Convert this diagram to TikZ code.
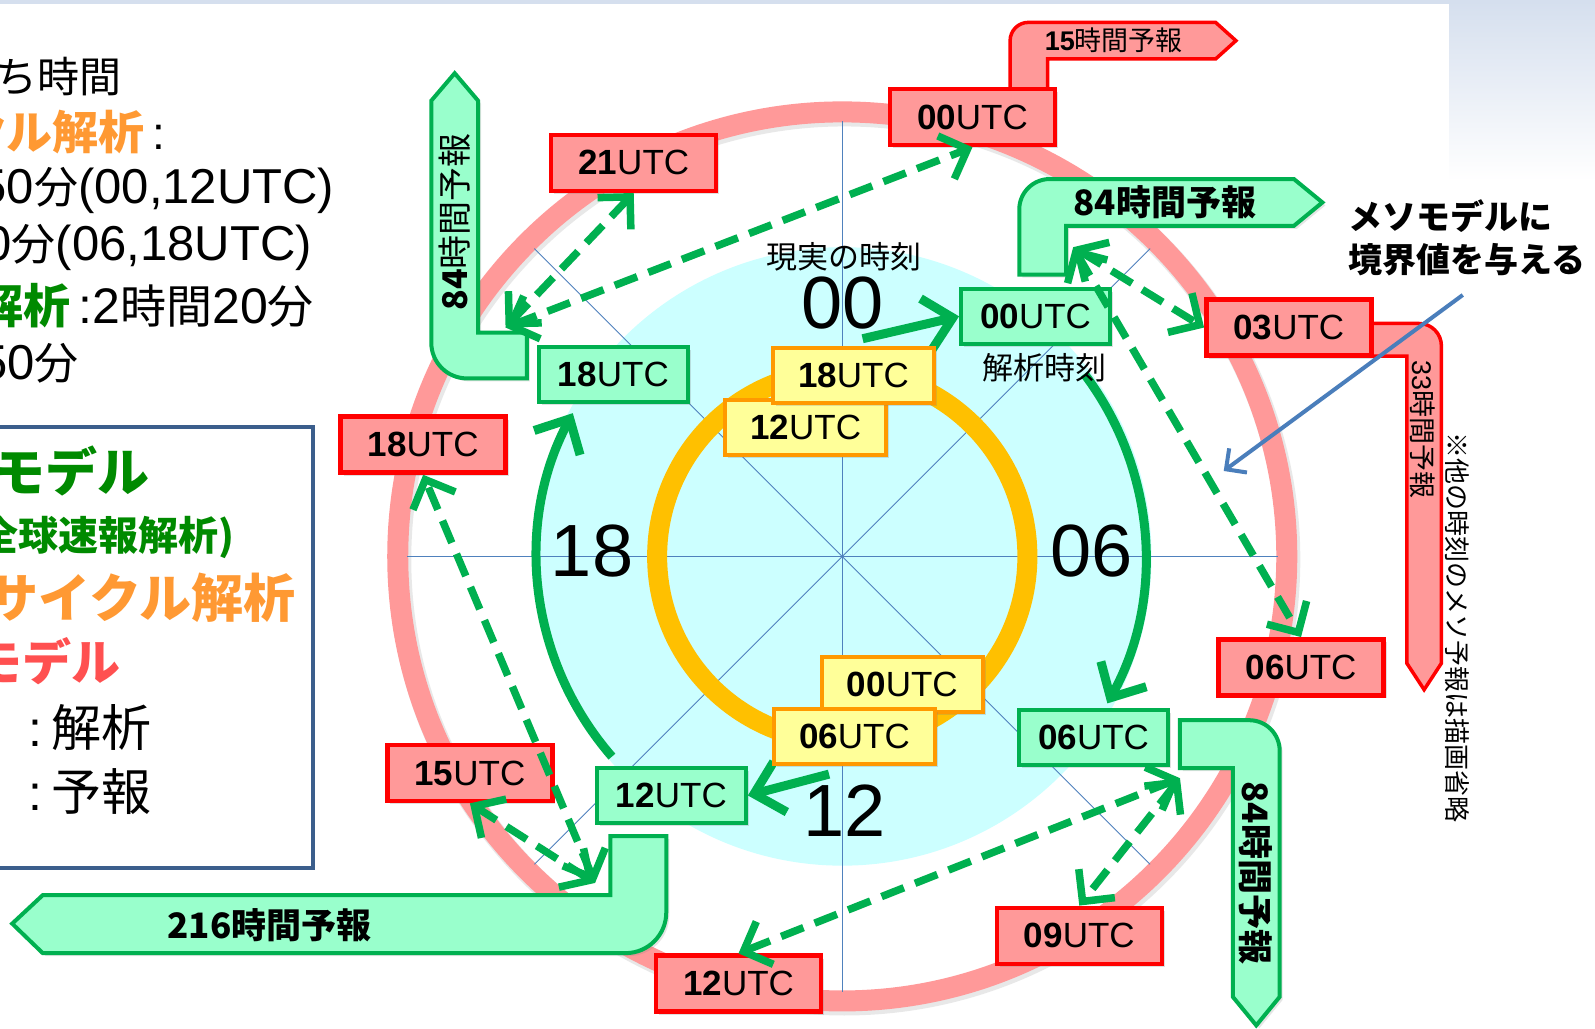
\documentclass[tikz,border=0pt]{standalone}
\usepackage{fontspec}
\setmainfont{Liberation Sans}
\newfontfamily\jp{Noto Sans CJK JP}
\usetikzlibrary{arrows.meta,shadows}

\definecolor{rfill}{HTML}{FF9999}
\definecolor{rdraw}{HTML}{FF0000}
\definecolor{gfill}{HTML}{99FFCC}
\definecolor{gdraw}{HTML}{00B050}
\definecolor{yfill}{HTML}{FFFF99}
\definecolor{ydraw}{HTML}{FF9900}
\definecolor{oring}{HTML}{FFC000}
\definecolor{cyanfill}{HTML}{CCFFFF}
\definecolor{axiscol}{HTML}{4F81BD}
\definecolor{bluearr}{HTML}{4A7EBB}
\definecolor{lgreen}{HTML}{008A00}
\definecolor{lorange}{HTML}{FF9933}
\definecolor{lred}{HTML}{FF5050}
\definecolor{legbox}{HTML}{3B5E8C}
\definecolor{bgblue}{HTML}{D5DFEE}

\newcommand\fs[1]{\fontsize{#1}{#1}\selectfont}

\begin{document}
\begin{tikzpicture}[x=1.0172pt,y=-1.0172pt,
  utcbox/.style={rectangle, inner sep=0pt, font=\fs{35},
    drop shadow={opacity=0.25,shadow xshift=3pt,shadow yshift=-3pt}},
  redbox/.style={utcbox, fill=rfill, draw=rdraw, line width=4.5pt, minimum width=165pt, minimum height=56pt},
  greenbox/.style={utcbox, fill=gfill, draw=gdraw, line width=4pt, minimum width=149pt, minimum height=55pt},
  yelbox/.style={utcbox, fill=yfill, draw=ydraw, line width=4pt, minimum width=161pt, minimum height=55pt},
  redbent/.style={draw=rdraw, fill=rfill, line width=3.5pt, line join=miter},
  greenbent/.style={draw=gdraw, fill=gfill, line width=4pt, line join=miter,
    drop shadow={opacity=0.2,shadow xshift=3pt,shadow yshift=-3pt}},
  dasharr/.style={draw=gdraw, line width=7.5pt, dash pattern=on 24pt off 12pt,
    >={Straight Barb[length=23pt,width=46pt]}, <->},
  solidarr/.style={draw=gdraw, line width=9pt, -{Straight Barb[length=27pt,width=52pt]}},
  bignum/.style={font=\fs{74}},
  jplabel/.style={font=\jp\fs{31}}
]
\useasboundingbox (0,0) rectangle (1568,1011);
\clip (0,0) rectangle (1568,1011);

% background
\fill[white] (0,0) rectangle (1568,1011);
\shade[top color=bgblue,bottom color=white] (1425,0) rectangle (1568,178);
\fill[bgblue] (0,0) rectangle (1568,4);

% circles
\coordinate (c) at (828,547);
\draw[black!25, line width=23pt, opacity=0.35] ([shift={(2,3)}]c) circle[radius=437];
\draw[rfill, line width=21pt] (c) circle[radius=437];
\fill[cyanfill] (c) circle[radius=304];
\foreach \a in {0,45,90,135}
  \draw[axiscol, line width=0.9pt] ([shift={(\a:428)}]c) -- ([shift={(\a+180:428)}]c);
\draw[oring, line width=20pt] (c) circle[radius=182];

% solid green cycle arrows
\draw[solidarr] ([shift={(-37:298)}]c) arc[start angle=-37,end angle=29,radius=298];
\draw[solidarr] ([shift={(139:300)}]c) arc[start angle=139,end angle=208,radius=300];
\coordinate (topstart) at (848,333);
\coordinate (botstart) at (815,761);

% bent block arrows
\draw[redbent] (993,88) -- (993,40) arc[start angle=180,end angle=270,radius=18]
  -- (1195,22) -- (1215,40) -- (1195,58) -- (1030,58) -- (1030,88) -- cycle;
\draw[greenbent] (1002,270) -- (1002,206) arc[start angle=180,end angle=270,radius=30]
  -- (1272,176) -- (1300,199) -- (1272,222) -- (1048,222) -- (1048,270) -- cycle;
\draw[redbent] (1345,318) -- (1395,318) arc[start angle=270,end angle=360,radius=22]
  -- (1417,652) -- (1400,678) -- (1383,652) -- (1383,350) -- (1345,350) -- cycle;
\draw[greenbent] (1160,708) -- (1228,708) arc[start angle=270,end angle=360,radius=30]
  -- (1258,980) -- (1235,1008) -- (1212,980) -- (1212,755) -- (1160,755) -- cycle;
\draw[greenbent] (518,327) -- (470,327) -- (470,99) -- (447,72) -- (424,99)
  -- (424,337) arc[start angle=180,end angle=90,radius=35] -- (518,372) -- cycle;
\draw[greenbent] (600,822) -- (655,822) -- (655,897) arc[start angle=0,end angle=90,radius=40]
  -- (42,937) -- (12,908) -- (42,880) -- (600,880) -- cycle;

% texts on bent arrows
\node[font=\fs{27}] (t15) at (1095,40) {\textbf{15}{\jp 時間予報}};
\node[font=\jp\bfseries\fs{35}] (t84a) at (1145,199) {84時間予報};
\node[rotate=-90, font=\fs{27}] (t33) at (1399,422) {33{\jp 時間予報}};
\node[rotate=-90, font=\jp\bfseries\fs{35}] (t84b) at (1235,858) {84時間予報};
\node[rotate=90, font=\jp\fs{34}] (t84c) at (447,218) {\textbf{84}時間予報};
\node[font=\jp\bfseries\fs{35}] (t216) at (265,910) {216時間予報};

% short green arrows (drawn under the boxes)
\node[greenbox] (g00) at (1018,311) {\textbf{00}UTC};
\node[greenbox] (g12) at (660,782) {\textbf{12}UTC};
\draw[solidarr] (topstart) -- (g00.west);
\draw[solidarr] (botstart) -- (g12.east);

% boxes
\node[redbox] (r00) at (956,115) {\textbf{00}UTC};
\node[redbox] (r21) at (623,160) {\textbf{21}UTC};
\node[redbox] (r18) at (416,437) {\textbf{18}UTC};
\node[redbox] (r15) at (462,760) {\textbf{15}UTC};
\node[redbox] (r12) at (726,967) {\textbf{12}UTC};
\node[redbox] (r09) at (1061,920) {\textbf{09}UTC};
\node[redbox] (r06) at (1279,656) {\textbf{06}UTC};
\node[redbox] (r03) at (1267,322) {\textbf{03}UTC};

\node[greenbox] (g18) at (603,368) {\textbf{18}UTC};
\node[greenbox] (g06) at (1075,725) {\textbf{06}UTC};

\node[yelbox] (y12) at (792,420) {\textbf{12}UTC};
\node[yelbox] (y18) at (839,369) {\textbf{18}UTC};
\node[yelbox] (y00) at (887,673) {\textbf{00}UTC};
\node[yelbox] (y06) at (840,724) {\textbf{06}UTC};

% circle labels
\node[jplabel] (genjitsu) at (830,252) {現実の時刻};
\node[bignum] (n00) at (828,298) {00};
\node[bignum] (n18) at (582,542) {18};
\node[bignum] (n06) at (1073,542) {06};
\node[bignum] (n12) at (830,797) {12};
\node[jplabel] (kaiseki) at (1027,362) {解析時刻};

% dashed arrows
\coordinate (p18) at (497,322);
\coordinate (p00) at (1055,243);
\coordinate (p06) at (1160,765);
\coordinate (p12) at (585,868);
\draw[dasharr] (p18) -- (r21.south);
\draw[dasharr] (p18) -- (r00.south);
\draw[dasharr] (p00) -- (r03.west);
\draw[dasharr] (p00) -- (r06.north);
\draw[dasharr] (p06) -- (r09.north);
\draw[dasharr] (p06) -- (r12.north);
\draw[dasharr] (p12) -- (r15.south);
\draw[dasharr] (p12) -- (r18.south);

% right annotation
\node[anchor=west, font=\jp\bfseries\fs{34}] (mesoa) at (1322,212) {メソモデルに};
\node[anchor=west, font=\jp\bfseries\fs{34}] (mesob) at (1322,255) {境界値を与える};
\coordinate (bs) at (1438,290);
\coordinate (be) at (1203,463);
\draw[bluearr, line width=4pt, -{Straight Barb[length=15pt,width=30pt]}] (bs) -- (be);
\node[rotate=-90, font=\jp\fs{26}] (note) at (1433,617) {※他の時刻のメソ予報は描画省略};

% left text
\node[anchor=east, font=\jp\fs{42}] (l1) at (123,75) {ち時間};
\node[anchor=east, font=\fs{46}] (l2) at (166,130) {{\jp\bfseries\color{lorange}クル解析}\,:};
\node[anchor=east, font=\fs{49}] (l3) at (332,187) {50{\jp\fs{44}分}(00,12UTC)};
\node[anchor=east, font=\fs{49}] (l4) at (310,243) {0{\jp\fs{44}分}(06,18UTC)};
\node[anchor=east, font=\fs{50}] (l5) at (312,300) {{\jp\bfseries\fs{47}\color{lgreen}解析}\,:2{\jp\fs{46}時間}20{\jp\fs{46}分}};
\node[anchor=east, font=\fs{49}] (l6) at (81,357) {50{\jp\fs{44}分}};

% legend box
\draw[legbox, line width=4pt] (-20,420) rectangle (308,853);
\node[anchor=east, font=\jp\bfseries\fs{52}, text=lgreen] (lg1) at (150,463) {モデル};
\node[anchor=east, font=\jp\bfseries\fs{40}, text=lgreen] (lg2) at (234,528) {全球速報解析)};
\node[anchor=east, font=\jp\bfseries\fs{52}, text=lorange] (lg3) at (294,588) {サイクル解析};
\node[anchor=east, font=\jp\bfseries\fs{49}, text=lred] (lg4) at (122,650) {モデル};
\node[anchor=east, font=\fs{50}] (lg5) at (152,715) {:\,{\jp 解析}};
\node[anchor=east, font=\fs{50}] (lg6) at (152,778) {:\,{\jp 予報}};
\end{tikzpicture}
\end{document}
